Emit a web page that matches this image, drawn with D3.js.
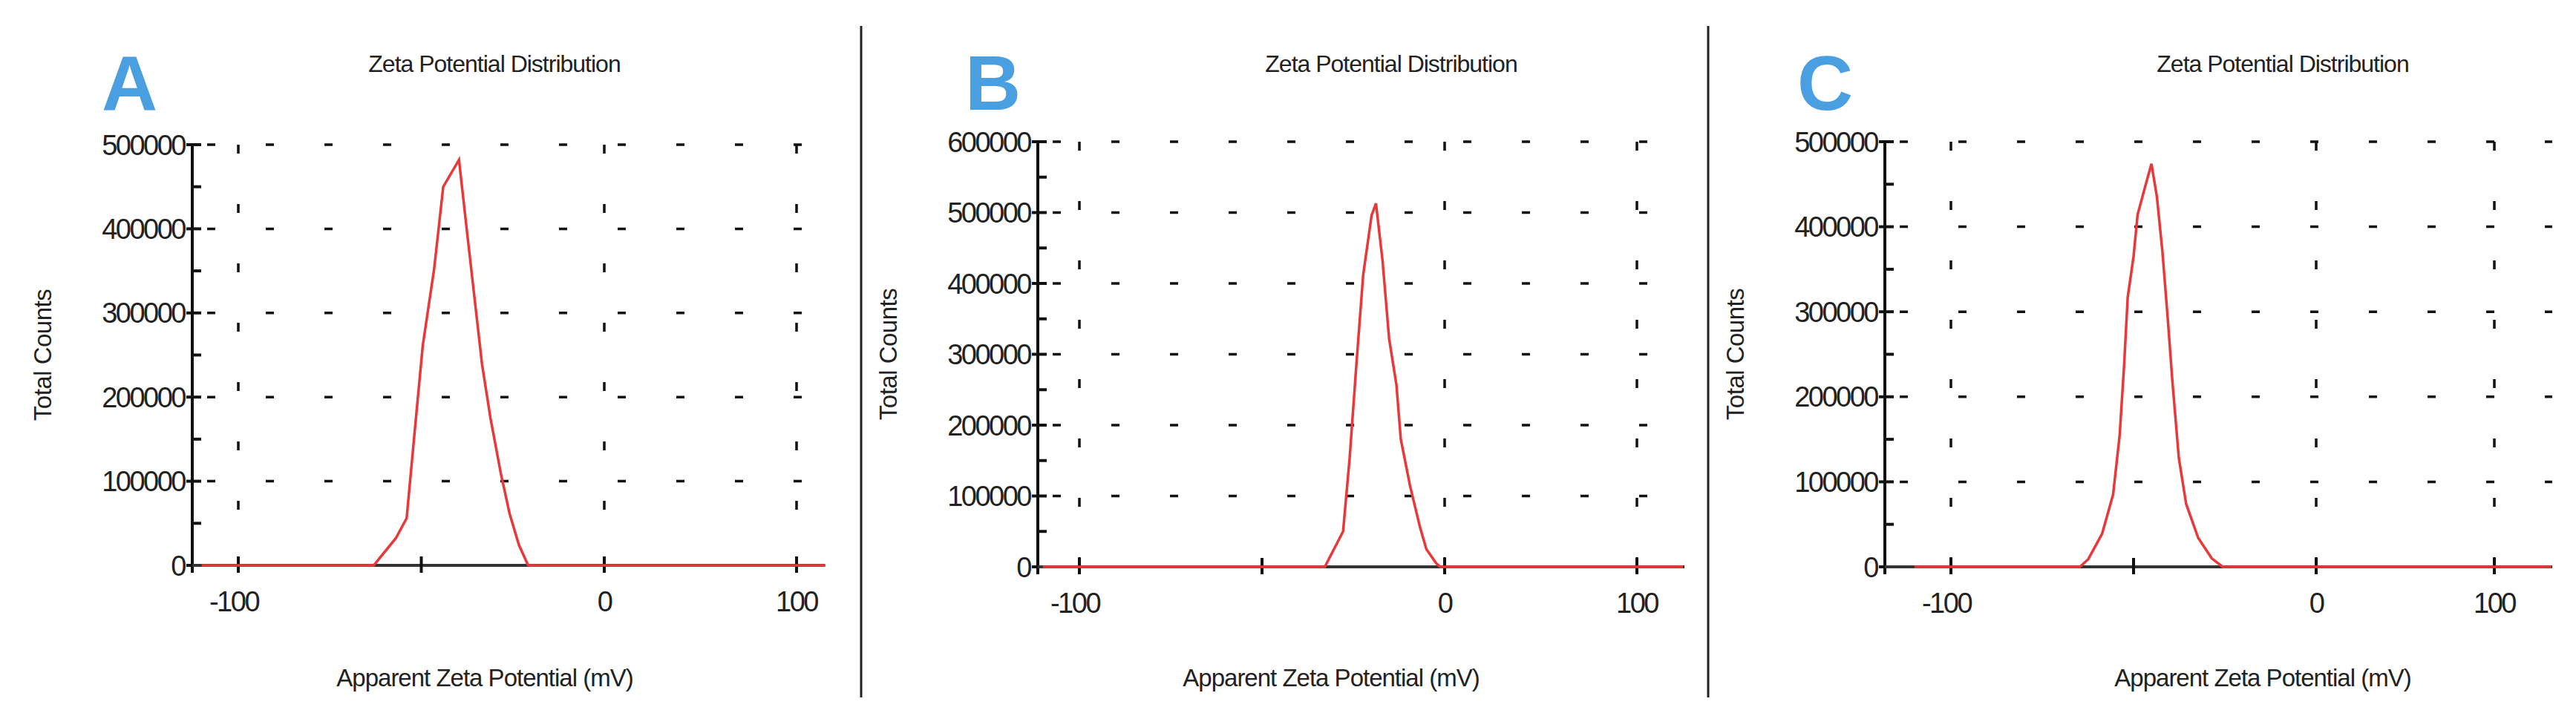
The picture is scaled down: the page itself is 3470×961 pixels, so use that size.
<!DOCTYPE html>
<html><head><meta charset="utf-8">
<script src="https://cdn.jsdelivr.net/npm/d3@7"></script>
<style>body{margin:0;background:#fff}text{font-family:"Liberation Sans",Arial,sans-serif}</style>
</head><body><svg id="c" width="3470" height="961"></svg>
<script>
const letters = ["A","B","C"];
const title = "Zeta Potential Distribution";
const xLabel = "Apparent Zeta Potential (mV)";
const yLabel = "Total Counts";
const xTickVals = [-100, 0, 100];
const xMinorTicks = [-50];
const yMaxA = 500000, yMaxB = 600000, yMaxC = 500000;
const seriesA_x = [-110,-63,-57,-54,-52,-49.6,-46.5,-44,-39.7,-37.6,-35.8,-33.4,-31.1,-28.3,-25.9,-23.3,-20.8,115];
const seriesA_y = [0,0,32000,56000,150000,261000,352000,450000,482000,400000,331000,239000,175000,110000,62000,24000,0,0];
const seriesB_x = [-110,-32.8,-27.8,-26,-24.1,-22.3,-20,-18.8,-17,-15.2,-13.2,-12,-9.5,-6.8,-5,-2.3,-1.2,124];
const seriesB_y = [0,0,50000,154000,290000,412000,496000,513000,432000,322000,257000,180000,115000,57000,25000,5000,0,0];
const seriesC_x = [-110,-64.7,-62.4,-58.6,-55.6,-53.8,-52.6,-51.6,-50,-48.9,-46.9,-45.1,-43.6,-42.1,-40.6,-39.4,-37.6,-35.6,-32.3,-28.6,-25.6,132];
const seriesC_y = [0,0,9000,39000,85000,155000,236000,317000,365000,414000,446000,474000,435000,371000,290000,220000,128000,74000,34000,10000,0,0];

const panels = [
 {L:letters[0], xs:seriesA_x, ys:seriesA_y, ymax:yMaxA, axX:259, xr:[321,814,1073], right:1111, top:195, bot:762, tx:666, lx:137, xl:653},
 {L:letters[1], xs:seriesB_x, ys:seriesB_y, ymax:yMaxB, axX:1398, xr:[1454,1946,2205], right:2269, top:191, bot:764, tx:1874, lx:1300, xl:1793},
 {L:letters[2], xs:seriesC_x, ys:seriesC_y, ymax:yMaxC, axX:2539, xr:[2628,3120,3360], right:3438, top:191, bot:764, tx:3075, lx:2421, xl:3048}
];
const svg = d3.select("#c");
[1160,2301].forEach(x=>svg.append("line").attr("x1",x).attr("x2",x).attr("y1",35).attr("y2",940).attr("stroke","#222").attr("stroke-width",3));

panels.forEach(p=>{
  const g = svg.append("g");
  const x = d3.scaleLinear().domain([-100,0,100]).range(p.xr);
  const y = d3.scaleLinear().domain([0,p.ymax]).range([p.bot,p.top]);
  const yMajor = d3.range(0,p.ymax+1,100000);
  const yMinor = d3.range(50000,p.ymax,100000);
  yMajor.filter(v=>v>0).forEach(v=>g.append("line").attr("x1",p.axX+20).attr("x2",p.right).attr("y1",y(v)).attr("y2",y(v))
    .attr("stroke","#111").attr("stroke-width",3.5).attr("stroke-dasharray","11 68"));
  xTickVals.forEach(v=>g.append("line").attr("x1",x(v)).attr("x2",x(v)).attr("y1",p.top).attr("y2",p.bot)
    .attr("stroke","#111").attr("stroke-width",3.5).attr("stroke-dasharray","12 68"));
  g.append("line").attr("x1",p.axX).attr("x2",p.axX).attr("y1",p.top).attr("y2",p.bot+10).attr("stroke","#111").attr("stroke-width",4);
  yMajor.forEach(v=>g.append("line").attr("x1",p.axX-8).attr("x2",p.axX+12).attr("y1",y(v)).attr("y2",y(v)).attr("stroke","#111").attr("stroke-width",4));
  yMinor.forEach(v=>g.append("line").attr("x1",p.axX).attr("x2",p.axX+12).attr("y1",y(v)).attr("y2",y(v)).attr("stroke","#111").attr("stroke-width",4));
  yMajor.forEach(v=>g.append("text").attr("x",p.axX-10).attr("y",y(v)).attr("dy","0.36em").attr("text-anchor","end")
    .attr("font-size",38).attr("letter-spacing",-2.5).attr("fill","#222").text(v));
  g.append("line").attr("x1",p.axX).attr("x2",p.right).attr("y1",p.bot).attr("y2",p.bot).attr("stroke","#333").attr("stroke-width",4);
  xTickVals.concat(xMinorTicks).forEach(v=>g.append("line").attr("x1",x(v)).attr("x2",x(v)).attr("y1",p.bot-12).attr("y2",p.bot+10).attr("stroke","#111").attr("stroke-width",4));
  xTickVals.forEach(v=>g.append("text").attr("x",x(v)-(v<0?6:0)).attr("y",p.bot+62).attr("text-anchor","middle")
    .attr("font-size",38).attr("letter-spacing",-2.5).attr("fill","#222").text(v));
  const pts = p.xs.map((v,i)=>[v,p.ys[i]]);
  g.append("path").attr("d",d3.line().x(d=>x(d[0])).y(d=>y(d[1]))(pts)).attr("fill","none").attr("stroke","#e8383a").attr("stroke-width",3.5);
  g.append("text").attr("x",p.tx).attr("y",97).attr("text-anchor","middle").attr("font-size",32).attr("letter-spacing",-1).attr("fill","#222").text(title);
  g.append("text").attr("x",p.xl).attr("y",925).attr("text-anchor","middle").attr("font-size",33).attr("letter-spacing",-1).attr("fill","#222").text(xLabel);
  g.append("text").attr("transform",`translate(${p.axX-190},${(p.top+p.bot)/2}) rotate(-90)`).attr("text-anchor","middle")
    .attr("font-size",33).attr("letter-spacing",-0.5).attr("fill","#222").text(yLabel);
  g.append("text").attr("x",p.lx).attr("y",148).attr("font-size",104).attr("font-weight","bold").attr("fill","#4a9fe0").text(p.L);
});
</script></body></html>
